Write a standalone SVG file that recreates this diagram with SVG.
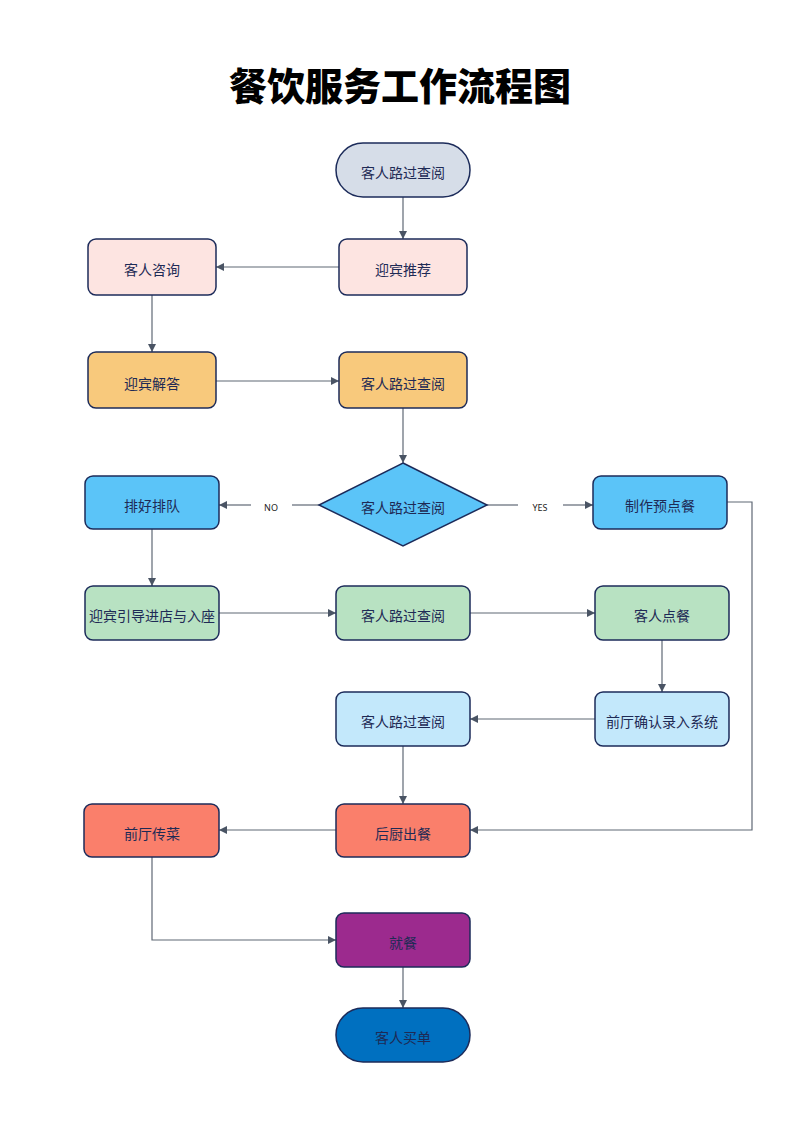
<svg xmlns="http://www.w3.org/2000/svg" width="800" height="1131" viewBox="0 0 800 1131">
<style>
.n{stroke:#1c2b5a;stroke-width:1.5}
.t{font-family:"Noto Sans CJK SC","Noto Sans",sans-serif;font-size:14px;fill:#1e2a55;text-anchor:middle;dominant-baseline:central}
.c{fill:none;stroke:#5f6875;stroke-width:1.2}
.l{font-family:"Noto Sans","Liberation Sans",sans-serif;font-size:9px;fill:#222;text-anchor:middle;dominant-baseline:central}
</style>
<defs>
<marker id="a" viewBox="0 0 10 10" refX="10" refY="5" markerWidth="8" markerHeight="8" markerUnits="userSpaceOnUse" orient="auto">
<path d="M0,0 L10,5 L0,10 z" fill="#4a5464"/>
</marker>
</defs>
<rect width="800" height="1131" fill="#ffffff"/>
<text x="400" y="100" font-family="'Noto Sans CJK SC',sans-serif" font-weight="900" font-size="38" text-anchor="middle" fill="#000">餐饮服务工作流程图</text>
<g id="connectors">
<path class="c" d="M403,197 V239" marker-end="url(#a)"/>
<path class="c" d="M339,267 H216" marker-end="url(#a)"/>
<path class="c" d="M152,295 V352" marker-end="url(#a)"/>
<path class="c" d="M216,381 H339" marker-end="url(#a)"/>
<path class="c" d="M403,408 V463" marker-end="url(#a)"/>
<path class="c" d="M319,505 H292"/>
<path class="c" d="M251,505 H219" marker-end="url(#a)"/>
<text class="l" x="271" y="507">NO</text>
<path class="c" d="M487,505 H518"/>
<path class="c" d="M563,505 H593" marker-end="url(#a)"/>
<text class="l" x="540" y="507">YES</text>
<path class="c" d="M152,529 V586" marker-end="url(#a)"/>
<path class="c" d="M219,613 H336" marker-end="url(#a)"/>
<path class="c" d="M470,613 H595" marker-end="url(#a)"/>
<path class="c" d="M662,640 V692" marker-end="url(#a)"/>
<path class="c" d="M595,719 H470" marker-end="url(#a)"/>
<path class="c" d="M403,746 V804" marker-end="url(#a)"/>
<path class="c" d="M727,502 H752 V830 H470" marker-end="url(#a)"/>
<path class="c" d="M336,830 H219" marker-end="url(#a)"/>
<path class="c" d="M152,857 V940 H336" marker-end="url(#a)"/>
<path class="c" d="M403,967 V1008" marker-end="url(#a)"/>
</g>
<g id="n1"><rect class="n" x="336" y="143" width="134" height="54" rx="27" fill="#d6dde8"/><text class="t" x="403" y="172">客人路过查阅</text></g>
<g id="n2"><rect class="n" x="339" y="239" width="128" height="56" rx="8" fill="#fde4e1"/><text class="t" x="403" y="269">迎宾推荐</text></g>
<g id="n3"><rect class="n" x="88" y="239" width="128" height="56" rx="8" fill="#fde4e1"/><text class="t" x="152" y="269">客人咨询</text></g>
<g id="n4"><rect class="n" x="88" y="352" width="128" height="56" rx="8" fill="#f8c97c"/><text class="t" x="152" y="383">迎宾解答</text></g>
<g id="n5"><rect class="n" x="339" y="352" width="128" height="56" rx="8" fill="#f8c97c"/><text class="t" x="403" y="383">客人路过查阅</text></g>
<g id="n6"><polygon class="n" points="403,463 487,505 403,546 319,505" fill="#5bc4f8"/><text class="t" x="403" y="507">客人路过查阅</text></g>
<g id="n7"><rect class="n" x="85" y="476" width="134" height="53" rx="8" fill="#5bc4f8"/><text class="t" x="152" y="505">排好排队</text></g>
<g id="n8"><rect class="n" x="593" y="476" width="134" height="53" rx="8" fill="#5bc4f8"/><text class="t" x="660" y="505">制作预点餐</text></g>
<g id="n9"><rect class="n" x="85" y="586" width="134" height="54" rx="8" fill="#b8e2c2"/><text class="t" x="152" y="615">迎宾引导进店与入座</text></g>
<g id="n10"><rect class="n" x="336" y="586" width="134" height="54" rx="8" fill="#b8e2c2"/><text class="t" x="403" y="615">客人路过查阅</text></g>
<g id="n11"><rect class="n" x="595" y="586" width="134" height="54" rx="8" fill="#b8e2c2"/><text class="t" x="662" y="615">客人点餐</text></g>
<g id="n12"><rect class="n" x="595" y="692" width="134" height="54" rx="8" fill="#c3e8fb"/><text class="t" x="662" y="721">前厅确认录入系统</text></g>
<g id="n13"><rect class="n" x="336" y="692" width="134" height="54" rx="8" fill="#c3e8fb"/><text class="t" x="403" y="721">客人路过查阅</text></g>
<g id="n14"><rect class="n" x="336" y="804" width="134" height="53" rx="8" fill="#fa7f6b"/><text class="t" x="403" y="833">后厨出餐</text></g>
<g id="n15"><rect class="n" x="84" y="804" width="135" height="53" rx="8" fill="#fa7f6b"/><text class="t" x="152" y="833">前厅传菜</text></g>
<g id="n16"><rect class="n" x="336" y="913" width="134" height="54" rx="8" fill="#9c2a8e"/><text class="t" x="403" y="942">就餐</text></g>
<g id="n17"><rect class="n" x="336" y="1008" width="134" height="54" rx="27" fill="#0070c0"/><text class="t" x="403" y="1037">客人买单</text></g>
</svg>
